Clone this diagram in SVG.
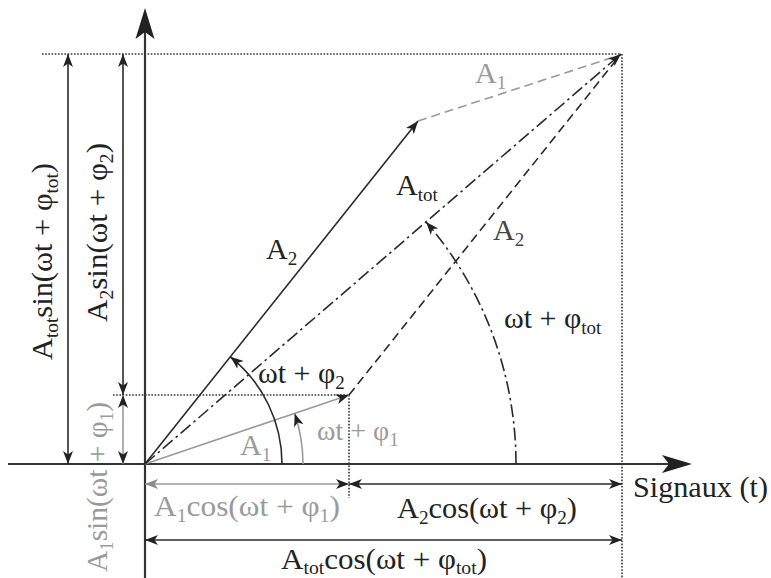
<svg xmlns="http://www.w3.org/2000/svg" width="771" height="578" viewBox="0 0 771 578">
<style>
text{font-family:"Liberation Serif","DejaVu Serif",serif;font-size:30px;fill:#222}
.g{fill:#9a9a9a}
.s{font-size:19px}
.ln{fill:none;stroke:#2a2a2a;stroke-width:1.6}
.lg{fill:none;stroke:#9a9a9a;stroke-width:1.6}
.ax{fill:none;stroke:#333;stroke-width:2.2}
.dot{fill:none;stroke:#333;stroke-width:1.6;stroke-dasharray:1.6 1.6}
.dash{stroke-dasharray:9 5}
.dd{stroke-dasharray:13 4 2.5 4}
</style>
<defs>
<marker id="ab" viewBox="0 0 13 10" refX="13" refY="5" markerWidth="13" markerHeight="10" orient="auto-start-reverse" markerUnits="userSpaceOnUse"><path d="M0,0 L13,5 L0,10 L3.5,5 Z" fill="#222"/></marker>
<marker id="ag" viewBox="0 0 13 10" refX="13" refY="5" markerWidth="13" markerHeight="10" orient="auto-start-reverse" markerUnits="userSpaceOnUse"><path d="M0,0 L13,5 L0,10 L3.5,5 Z" fill="#8a8a8a"/></marker>
</defs>
<g id="axes">
<line class="ax" x1="8" y1="464" x2="672" y2="464"/>
<path d="M692,464 L662,455 L669,464 L662,473 Z" fill="#222"/>
<line class="ax" x1="145" y1="578" x2="145" y2="30"/>
<path d="M145,8 L135.5,39 L145,32 L154.5,39 Z" fill="#222"/>
</g>
<g id="connectors">
<line class="dot" x1="42" y1="54" x2="621" y2="54"/>
<line class="dot" x1="622" y1="54" x2="622" y2="578"/>
<line class="dot" x1="113" y1="395" x2="349" y2="395"/>
<line class="dot" x1="349" y1="395" x2="349" y2="498"/>
<line class="ln" x1="68" y1="54" x2="68" y2="464" marker-start="url(#ab)" marker-end="url(#ab)"/>
<line class="ln" x1="123" y1="54" x2="123" y2="395" marker-start="url(#ab)" marker-end="url(#ab)"/>
<line class="lg" x1="123" y1="395" x2="123" y2="464" marker-start="url(#ab)" marker-end="url(#ab)"/>
<line class="lg" x1="145" y1="484" x2="349" y2="484" marker-start="url(#ag)" marker-end="url(#ab)"/>
<line class="ln" x1="349" y1="484" x2="622" y2="484" marker-start="url(#ab)" marker-end="url(#ab)"/>
<line class="ln" x1="145" y1="540" x2="622" y2="540" marker-start="url(#ab)" marker-end="url(#ab)"/>
<line class="lg" x1="145" y1="464" x2="349" y2="395" marker-end="url(#ab)"/>
<line class="ln" x1="145" y1="464" x2="418" y2="121" marker-end="url(#ab)"/>
<line class="lg dash" x1="418" y1="121" x2="620" y2="55"/>
<line class="ln dash" x1="349" y1="395" x2="621" y2="54"/>
<line class="ln dd" x1="145" y1="464" x2="621" y2="54" marker-end="url(#ab)"/>
<path class="ln" d="M282,464 A137,137 0 0 0 230.3,356.8" marker-end="url(#ab)"/>
<path class="lg" d="M303,464 A158,158 0 0 0 294.7,413.4" marker-end="url(#ab)"/>
<path class="ln dd" d="M516,464 A371,371 0 0 0 426.1,221.9" marker-end="url(#ab)"/>
</g>
<g id="labels">
<text transform="translate(52,360) rotate(-90)" textLength="197" lengthAdjust="spacingAndGlyphs">A<tspan class="s" dy="6">tot</tspan><tspan dy="-6">sin(ωt + φ</tspan><tspan class="s" dy="6">tot</tspan><tspan dy="-6">)</tspan></text>
<text transform="translate(107,322) rotate(-90)" textLength="179" lengthAdjust="spacingAndGlyphs">A<tspan class="s" dy="6">2</tspan><tspan dy="-6">sin(ωt + φ</tspan><tspan class="s" dy="6">2</tspan><tspan dy="-6">)</tspan></text>
<text class="g" transform="translate(107,572) rotate(-90)" textLength="170" lengthAdjust="spacingAndGlyphs">A<tspan class="s" dy="6">1</tspan><tspan dy="-6">sin(ωt + φ</tspan><tspan class="s" dy="6">1</tspan><tspan dy="-6">)</tspan></text>
<text class="g" x="154" y="516" textLength="186" lengthAdjust="spacingAndGlyphs">A<tspan class="s" dy="6">1</tspan><tspan dy="-6">cos(ωt + φ</tspan><tspan class="s" dy="6">1</tspan><tspan dy="-6">)</tspan></text>
<text x="397" y="518" textLength="180" lengthAdjust="spacingAndGlyphs">A<tspan class="s" dy="6">2</tspan><tspan dy="-6">cos(ωt + φ</tspan><tspan class="s" dy="6">2</tspan><tspan dy="-6">)</tspan></text>
<text x="281" y="569" textLength="206" lengthAdjust="spacingAndGlyphs">A<tspan class="s" dy="5">tot</tspan><tspan dy="-5">cos(ωt + φ</tspan><tspan class="s" dy="5">tot</tspan><tspan dy="-5">)</tspan></text>
<text x="633" y="497" textLength="135" lengthAdjust="spacingAndGlyphs">Signaux (t)</text>
<text x="266" y="259">A<tspan class="s" dy="6">2</tspan></text>
<text x="396" y="195">A<tspan class="s" dy="6">tot</tspan></text>
<text x="493" y="240" style="fill:#444">A<tspan class="s" dy="6">2</tspan></text>
<text class="g" x="475" y="83">A<tspan class="s" dy="6">1</tspan></text>
<text class="g" x="240" y="455">A<tspan class="s" dy="6">1</tspan></text>
<text x="258" y="383">ωt + φ<tspan class="s" dy="6">2</tspan></text>
<text class="g" x="317" y="440" style="font-size:28px">ωt + φ<tspan class="s" dy="6">1</tspan></text>
<text x="504" y="328">ωt + φ<tspan class="s" dy="6">tot</tspan></text>
</g>
</svg>
